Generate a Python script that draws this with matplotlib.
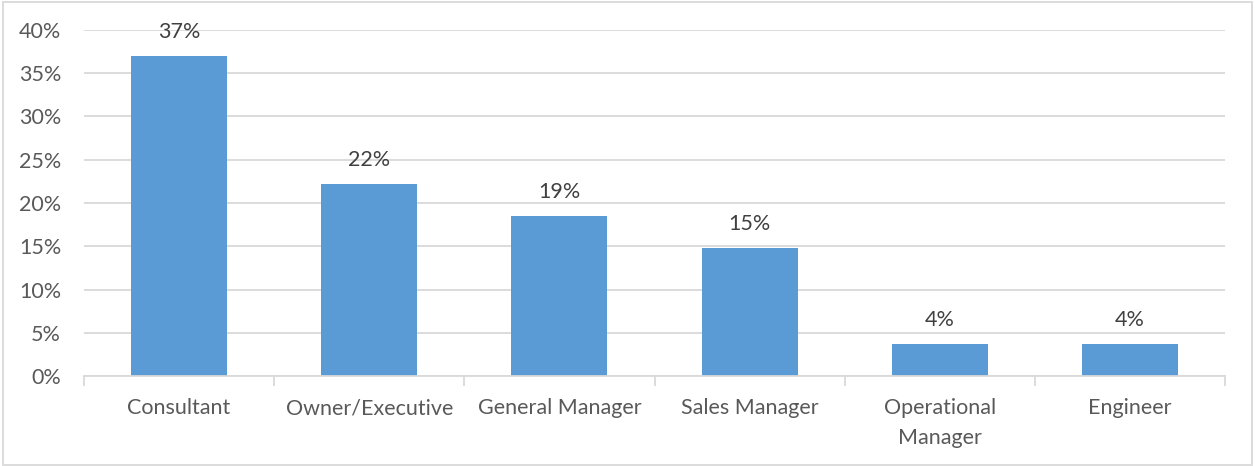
import matplotlib.pyplot as plt
from matplotlib.patches import Rectangle
from matplotlib.ticker import PercentFormatter, FixedLocator

"""Chart data"""
roles = ["Consultant", "Owner/Executive", "General Manager", "Sales Manager",
         "Operational\nManager", "Engineer"]
shares = [0.370, 0.222, 0.1852, 0.148, 0.037, 0.037]

BAR_COLOR = "#5b9bd5"
GRID_COLOR = "#d9d9d9"
TEXT_COLOR = "#595959"
LABEL_COLOR = "#404040"
FONT_SIZE = 15.5

plt.rcParams['font.family'] = ['Lato', 'DejaVu Sans']

fig = plt.figure(figsize=(12.55, 4.66), dpi=100)
ax = fig.add_axes([84 / 1255, 1 - 376 / 466, (1225 - 84) / 1255, (376 - 30) / 466])

x = list(range(len(roles)))
bars = ax.bar(x, shares, width=0.505, color=BAR_COLOR, zorder=3)

for rect, val in zip(bars, shares):
    ax.annotate(f"{val:.0%}", (rect.get_x() + rect.get_width() / 2, rect.get_height()),
                xytext=(0, 10), textcoords="offset points", ha="center", va="bottom",
                fontsize=FONT_SIZE, color=LABEL_COLOR)

ax.set_xlim(-0.5, len(roles) - 0.5)
ax.set_ylim(0, 0.40)
ax.yaxis.set_major_locator(FixedLocator([i * 0.05 for i in range(9)]))
ax.yaxis.set_major_formatter(PercentFormatter(1.0, decimals=0))
ax.grid(axis="y", color=GRID_COLOR, linewidth=1.3, zorder=0)

ax.set_xticks(x)
ax.set_xticklabels(roles, linespacing=1.6)
ax.set_xticks([i - 0.5 for i in range(len(roles) + 1)], minor=True)
ax.tick_params(axis="x", which="major", length=0, pad=16, labelsize=FONT_SIZE, labelcolor=TEXT_COLOR)
ax.tick_params(axis="x", which="minor", length=7, width=1.3, color=GRID_COLOR)
ax.tick_params(axis="y", length=0, pad=16.5, labelsize=FONT_SIZE, labelcolor=TEXT_COLOR)

for side in ["top", "right", "left"]:
    ax.spines[side].set_visible(False)
ax.spines["bottom"].set_color(GRID_COLOR)
ax.spines["bottom"].set_linewidth(1.3)
ax.spines["bottom"].set_zorder(4)

"""Outer chart border"""
fig.patches.append(Rectangle((0.002, 0.002), 0.996, 0.993, transform=fig.transFigure,
                             fill=False, edgecolor=GRID_COLOR, linewidth=1.3))

fig.savefig("out.png", dpi=100)
